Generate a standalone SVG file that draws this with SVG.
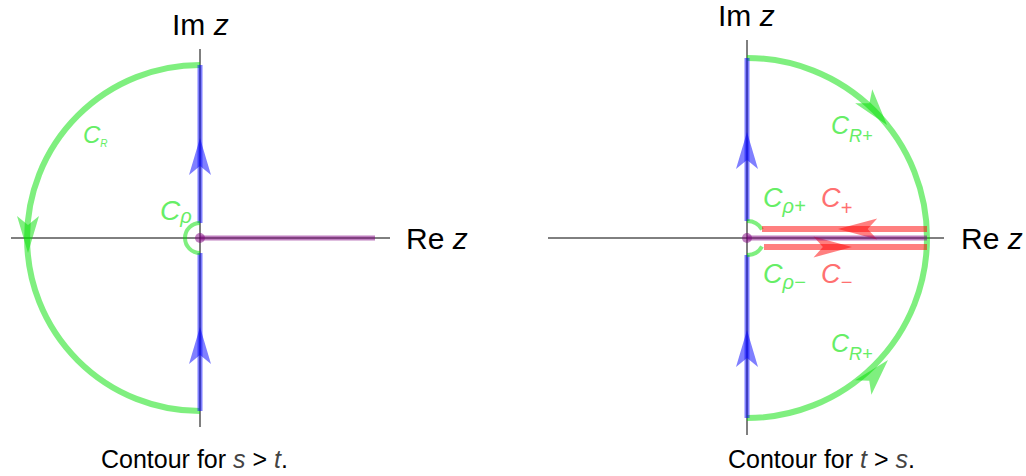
<svg xmlns="http://www.w3.org/2000/svg" width="1026" height="476" viewBox="0 0 1026 476">
<style>
.ax{stroke:#000;stroke-width:1;fill:none}
.g{stroke:#00e000;stroke-opacity:0.5;fill:none;stroke-width:6}
.gs{stroke:#00e000;stroke-opacity:0.5;fill:none;stroke-width:4}
.b{stroke:#0000ff;stroke-opacity:0.5;stroke-width:5;fill:none}
.r{stroke:#ff0000;stroke-opacity:0.5;stroke-width:6;fill:none}
.p{stroke:#800080;stroke-opacity:0.5;stroke-width:5;fill:none}
.ga{fill:#00e000;fill-opacity:0.5}
.ba{fill:#0000ff;fill-opacity:0.5}
.ra{fill:#ff0000;fill-opacity:0.5}
.pd{fill:#800080;fill-opacity:0.5}
text{font-family:"Liberation Sans",Arial,sans-serif}
.lab{font-size:30px;fill:#000}
.cap{font-size:25px;fill:#000}
.gl{fill:#66ee66;font-style:italic}
.rl{fill:#ff7070;font-style:italic}
.it{font-style:italic}
</style>
<defs>
<polygon id="ah" points="0,0 -37,-11 -28,0 -37,11"/>
</defs>

<g id="left-panel">
  <g id="left-axes">
    <line class="ax" x1="200" y1="49" x2="200" y2="427"/>
    <line class="ax" x1="11" y1="238" x2="390" y2="238"/>
    <text class="lab" x="172" y="35">Im <tspan class="it">z</tspan></text>
    <text class="lab" x="406" y="249">Re <tspan class="it">z</tspan></text>
  </g>
  <g id="left-connectors">
    <path class="g" d="M200,65 A173,173 0 0 0 200,411"/>
    <use href="#ah" class="ga" transform="translate(28,253) rotate(90)"/>
    <line class="b" x1="200" y1="65" x2="200" y2="223"/>
    <line class="b" x1="200" y1="253" x2="200" y2="411"/>
    <use href="#ah" class="ba" transform="translate(200,138) rotate(-90)"/>
    <use href="#ah" class="ba" transform="translate(200,327) rotate(-90)"/>
    <path class="gs" d="M200,223 A15,15 0 0 0 200,253"/>
    <line class="p" x1="200" y1="238" x2="375" y2="238"/>
    <circle class="pd" cx="200" cy="238" r="5"/>
  </g>
  <g id="left-labels">
    <text class="gl" x="83" y="143" font-size="24">C<tspan font-size="10" dy="4">R</tspan></text>
    <text class="gl" x="160" y="220" font-size="28">C<tspan font-size="20" dy="3">ρ</tspan></text>
    <text class="cap" x="101" y="468">Contour for <tspan class="it" fill="#444">s</tspan> &gt; <tspan class="it" fill="#444">t</tspan>.</text>
  </g>
</g>

<g id="right-panel">
  <g id="right-axes">
    <line class="ax" x1="747" y1="40" x2="747" y2="435"/>
    <line class="ax" x1="548" y1="238" x2="944" y2="238"/>
    <text class="lab" x="718" y="26">Im <tspan class="it">z</tspan></text>
    <text class="lab" x="961" y="249">Re <tspan class="it">z</tspan></text>
  </g>
  <g id="right-connectors">
    <path class="g" d="M747,58 A180,180 0 0 1 747,418"/>
    <use href="#ah" class="ga" transform="translate(887,125) rotate(51)"/>
    <use href="#ah" class="ga" transform="translate(888,360) rotate(-48)"/>
    <line class="b" x1="747" y1="58" x2="747" y2="221"/>
    <line class="b" x1="747" y1="255" x2="747" y2="418"/>
    <use href="#ah" class="ba" transform="translate(747,132) rotate(-90)"/>
    <use href="#ah" class="ba" transform="translate(747,330) rotate(-90)"/>
    <path class="gs" d="M747,221 A17,17 0 0 1 762,229.5"/>
    <path class="gs" d="M762,246.5 A17,17 0 0 1 747,255"/>
    <line class="r" x1="762" y1="229" x2="927" y2="229"/>
    <line class="r" x1="764" y1="247" x2="927" y2="247"/>
    <use href="#ah" class="ra" transform="translate(838,229) rotate(180) scale(1.06,0.95)"/>
    <use href="#ah" class="ra" transform="translate(852,247) scale(1.04,0.95)"/>
    <line class="p" x1="747" y1="238" x2="927" y2="238"/>
    <circle class="pd" cx="747" cy="238" r="5"/>
  </g>
  <g id="right-labels">
    <text class="gl" x="831" y="134" font-size="25">C<tspan font-size="18" dy="8">R+</tspan></text>
    <text class="gl" x="831" y="352" font-size="25">C<tspan font-size="18" dy="8">R+</tspan></text>
    <text class="gl" x="763" y="207" font-size="27">C<tspan font-size="20" dy="6">ρ+</tspan></text>
    <text class="rl" x="821" y="207" font-size="27">C<tspan font-size="20" dy="8">+</tspan></text>
    <text class="gl" x="763" y="283" font-size="27">C<tspan font-size="20" dy="6">ρ−</tspan></text>
    <text class="rl" x="821" y="283" font-size="27">C<tspan font-size="20" dy="6">−</tspan></text>
    <text class="cap" x="728" y="468">Contour for <tspan class="it" fill="#444">t</tspan> &gt; <tspan class="it" fill="#444">s</tspan>.</text>
  </g>
</g>
</svg>
